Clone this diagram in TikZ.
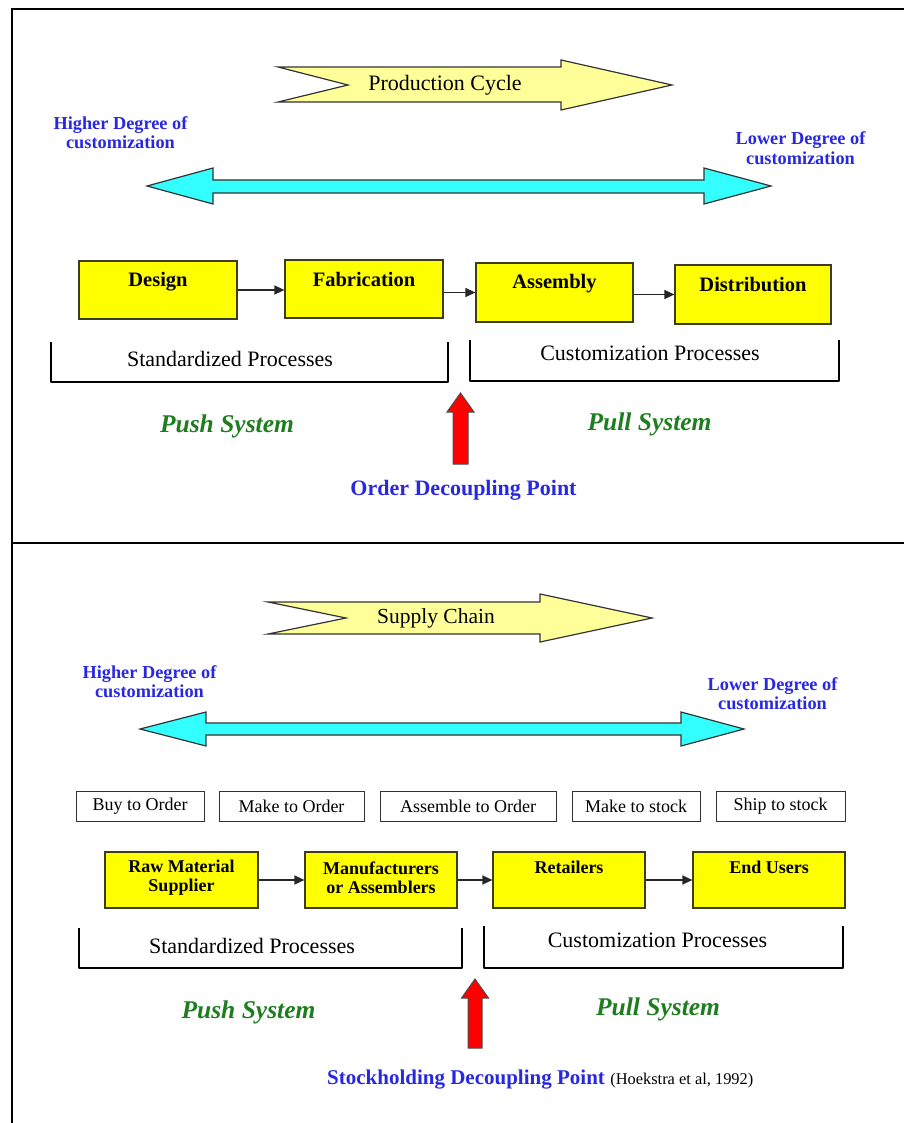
\documentclass[tikz,border=0pt]{standalone}
\usepackage{fontspec}
\setmainfont{Liberation Serif}
\usetikzlibrary{arrows.meta,calc}
\definecolor{yfill}{RGB}{255,255,0}
\definecolor{ydraw}{RGB}{60,60,30}
\definecolor{pfill}{RGB}{255,255,153}
\definecolor{cfill}{RGB}{51,255,255}
\definecolor{rfill}{RGB}{255,0,0}
\definecolor{tblue}{RGB}{40,40,225}
\definecolor{tgreen}{RGB}{30,125,30}
\newcommand{\setfs}[2]{\fontsize{#1}{#2}\selectfont}
\begin{document}
\begin{tikzpicture}[x=1pt,y=-1pt,
  frame/.style={line width=2pt,black},
  ybox/.style={draw=ydraw,fill=yfill,line width=1.2pt,inner sep=0pt},
  wbox/.style={draw=black!80,line width=1pt,inner sep=0pt,minimum height=30pt},
  btxt/.style={inner sep=0pt,font=\bfseries\setfs{20.5}{24}},
  bbtxt/.style={inner sep=0pt,align=center,font=\bfseries\setfs{18}{19}},
  wtxt/.style={inner sep=0pt,font=\setfs{18}{20}},
  ptxt/.style={inner sep=0pt,font=\setfs{22}{24}},
  bluetxt/.style={inner sep=0pt,align=center,text=tblue,font=\bfseries\setfs{18.3}{19.5}},
  dptxt/.style={inner sep=0pt,text=tblue,font=\bfseries\setfs{22}{24}},
  systxt/.style={inner sep=0pt,text=tgreen,font=\bfseries\itshape\setfs{25.5}{28}},
  conn/.style={line width=1.4pt,black!85,-{Triangle[length=10pt,width=9pt]}},
  bracket/.style={line width=2.8pt,black,line join=round},
  chevron/.style={draw=black!80,fill=pfill,line width=1.2pt,line join=miter},
  dbl/.style={draw=black!80,fill=cfill,line width=1.2pt},
  redarrow/.style={draw=black!70,fill=rfill,line width=1pt}
]
\useasboundingbox (0,0) rectangle (904,1123);

% frame
\draw[frame] (12,9.5) -- (904,9.5);
\draw[frame] (12,8.5) -- (12,1123);
\draw[frame] (12,543) -- (904,543);

% ===================== TOP =====================
\draw[chevron] (278,67) -- (561,67) -- (561,60) -- (672,85) -- (561,110) -- (561,102) -- (278,102) -- (348,85) -- cycle;
\node[ptxt] (prod) at (445,85) {Production Cycle};

\node[bluetxt] (hi1) at (120.5,132.5) {Higher Degree of\\customization};
\node[bluetxt] (lo1) at (800.5,148) {Lower Degree of\\customization};

\draw[dbl] (147,186) -- (213,168) -- (213,180) -- (704,180) -- (704,168) -- (771,186) -- (704,204) -- (704,193) -- (213,193) -- (213,204) -- cycle;

\node[ybox,minimum width=158pt,minimum height=58pt] (design) at (158,290) {};
\node[ybox,minimum width=158pt,minimum height=58pt] (fab) at (364,289) {};
\node[ybox,minimum width=157pt,minimum height=59pt] (asm) at (554.5,292.5) {};
\node[ybox,minimum width=156pt,minimum height=59pt] (dist) at (753,294.5) {};
\node[btxt] (designT) at ($(design.north)+(0,21)$) {Design};
\node[btxt] (fabT) at ($(fab.north)+(0,20)$) {Fabrication};
\node[btxt] (asmT) at ($(asm.north)+(0,21)$) {Assembly};
\node[btxt] (distT) at ($(dist.north)+(0,20)$) {Distribution};

\draw[conn] (design.east) -- (design.east -| fab.west);
\draw[conn] (fab.east |- asm.west) -- (asm.west);
\draw[conn] (asm.east |- dist.west) -- (dist.west);

\draw[bracket] (51,342) -- (51,382) -- (448,382) -- (448,342);
\draw[bracket] (470,340) -- (470,381) -- (839,381) -- (839,340);
\node[ptxt] (std1) at (230,359) {Standardized Processes};
\node[ptxt] (cus1) at (650,353) {Customization Processes};

\node[systxt] (push1) at (227,426) {Push System};
\node[systxt] (pull1) at (649.5,424) {Pull System};

\draw[redarrow] (460.5,393) -- (474,412) -- (468,412) -- (468,464) -- (453,464) -- (453,412) -- (447,412) -- cycle;
\node[dptxt] (odp) at (463.5,490) {Order Decoupling Point};

% ===================== BOTTOM =====================
\draw[chevron] (268,602) -- (540,602) -- (540,594) -- (652,618) -- (540,642) -- (540,634) -- (268,634) -- (346,618) -- cycle;
\node[ptxt,font=\setfs{21.5}{24}] (supply) at (436,618) {Supply Chain};

\node[bluetxt] (hi2) at (149.5,681.5) {Higher Degree of\\customization};
\node[bluetxt] (lo2) at (772.5,693.5) {Lower Degree of\\customization};

\draw[dbl] (140,729) -- (206,712) -- (206,723) -- (681,723) -- (681,712) -- (744,729) -- (681,746) -- (681,735) -- (206,735) -- (206,746) -- cycle;

\node[wbox,minimum width=128pt] (bto) at (140,806) {};
\node[wbox,minimum width=145pt] (mto) at (291.5,806) {};
\node[wbox,minimum width=176pt] (ato) at (468,806) {};
\node[wbox,minimum width=128pt] (mts) at (636,806) {};
\node[wbox,minimum width=129pt] (sts) at (780.5,806) {};
\node[wtxt] (btoT) at (bto.center) {Buy to Order};
\node[wtxt] (mtoT) at (mto.center) {Make to Order};
\node[wtxt] (atoT) at (ato.center) {Assemble to Order};
\node[wtxt] (mtsT) at (mts.center) {Make to stock};
\node[wtxt] (stsT) at (sts.center) {Ship to stock};

\node[ybox,minimum width=153pt,minimum height=56pt] (raw) at (181.5,880) {};
\node[ybox,minimum width=152pt,minimum height=56pt] (manu) at (381,880) {};
\node[ybox,minimum width=152pt,minimum height=56pt] (ret) at (569,880) {};
\node[ybox,minimum width=152pt,minimum height=56pt] (endu) at (769,880) {};
\node[bbtxt] (rawT) at ($(raw.north)+(0,26)$) {Raw Material\\Supplier};
\node[bbtxt] (manuT) at ($(manu.north)+(0,26)$) {Manufacturers\\or Assemblers};
\node[bbtxt] (retT) at ($(ret.north)+(0,16)$) {Retailers};
\node[bbtxt] (enduT) at ($(endu.north)+(0,16)$) {End Users};

\draw[conn] (raw.east) -- (manu.west);
\draw[conn] (manu.east) -- (ret.west);
\draw[conn] (ret.east) -- (endu.west);

\draw[bracket] (79,928) -- (79,968) -- (462,968) -- (462,928);
\draw[bracket] (484,926) -- (484,968) -- (843,968) -- (843,926);
\node[ptxt] (std2) at (252,946) {Standardized Processes};
\node[ptxt] (cus2) at (657.5,940) {Customization Processes};

\node[systxt] (push2) at (248.5,1012) {Push System};
\node[systxt] (pull2) at (658,1009) {Pull System};

\draw[redarrow] (475,979) -- (488.5,998) -- (482,998) -- (482,1048) -- (468,1048) -- (468,998) -- (461.5,998) -- cycle;
\node[dptxt,anchor=west,font=\bfseries\setfs{21}{24}] (sdp) at (327,1080) {Stockholding Decoupling Point};
\node[inner sep=0pt,anchor=base west,font=\setfs{16.4}{18}] (cite) at ([xshift=5pt]sdp.base east) {(Hoekstra et al, 1992)};
\end{tikzpicture}
\end{document}
